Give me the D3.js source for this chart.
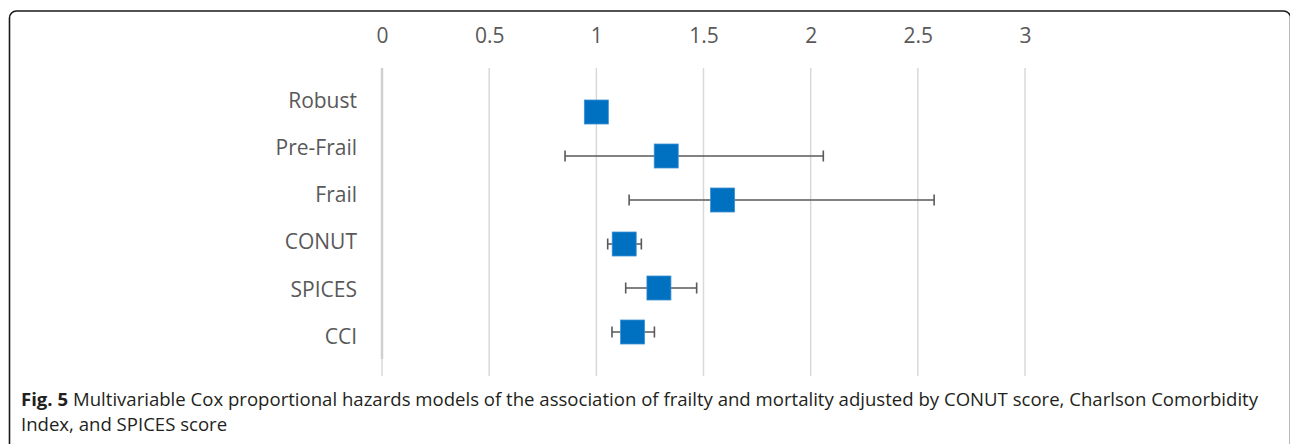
<!DOCTYPE html>
<html>
<head>
<meta charset="utf-8">
<script src="https://cdn.jsdelivr.net/npm/d3@7"></script>
<style>
  html, body { margin: 0; padding: 0; background: #fff; }
  svg { display: block; }
</style>
</head>
<body>
<svg id="chart" width="1290" height="444"></svg>
<script>
// Hazard ratios with 95% confidence intervals
const categories = ["Robust", "Pre-Frail", "Frail", "CONUT", "SPICES", "CCI"];
const hazardRatio = [1.0, 1.326, 1.589, 1.13, 1.292, 1.169];
const ciLower = [null, 0.854, 1.153, 1.053, 1.137, 1.073];
const ciUpper = [null, 2.059, 2.576, 1.21, 1.468, 1.271];
const tickValues = [0, 0.5, 1, 1.5, 2, 2.5, 3];
const tickLabels = ["0", "0.5", "1", "1.5", "2", "2.5", "3"];
const captionBold = "Fig. 5";
const captionLine1 = "Multivariable Cox proportional hazards models of the association of frailty and mortality adjusted by CONUT score, Charlson Comorbidity";
const captionLine2 = "Index, and SPICES score";

const svg = d3.select("#chart");
const font = "'Open Sans', 'Noto Sans', sans-serif";

// Frame around figure
svg.append("rect")
  .attr("x", 9.5).attr("y", 11)
  .attr("width", 1281).attr("height", 600)
  .attr("rx", 7).attr("ry", 7)
  .attr("fill", "#fff")
  .attr("stroke", "#1a1a1a")
  .attr("stroke-width", 1.6);

const x = d3.scaleLinear().domain([0, 3]).range([382, 1025]);
const yLabel = d3.scaleBand().domain(categories).range([77, 360]);
const yMark = d3.scaleBand().domain(categories).range([90, 354]);

const gridTop = 68, gridBottom = 376, axisBottom = 359;

// Vertical gridlines
svg.append("g").selectAll("line")
  .data(tickValues)
  .join("line")
  .attr("x1", d => x(d)).attr("x2", d => x(d))
  .attr("y1", gridTop).attr("y2", gridBottom)
  .attr("stroke", "#d9d9d9")
  .attr("stroke-width", 1.5);

// Category axis line at zero
svg.append("line")
  .attr("x1", x(0)).attr("x2", x(0))
  .attr("y1", gridTop).attr("y2", axisBottom)
  .attr("stroke", "#d0d0d0")
  .attr("stroke-width", 2.5);

// Value axis along the top
const xAxis = d3.axisTop(x)
  .tickValues(tickValues)
  .tickSize(0)
  .tickPadding(0)
  .tickFormat((d, i) => tickLabels[i]);

const gx = svg.append("g")
  .attr("transform", "translate(0,43)")
  .call(xAxis);
gx.select(".domain").remove();
gx.selectAll("text")
  .attr("y", 0)
  .attr("dy", 0)
  .attr("font-family", font)
  .attr("font-size", 21)
  .attr("fill", "#595959");

// Category labels
const yAxis = d3.axisLeft(yLabel).tickSize(0).tickPadding(0);
const gy = svg.append("g")
  .attr("transform", "translate(357,0)")
  .call(yAxis);
gy.select(".domain").remove();
gy.selectAll("text")
  .attr("dy", "0.35em")
  .attr("font-family", font)
  .attr("font-size", 21)
  .attr("fill", "#595959");

// Confidence interval whiskers
const rows = categories.map((c, i) => ({
  cat: c, hr: hazardRatio[i], lo: ciLower[i], hi: ciUpper[i]
}));
const withCI = rows.filter(d => d.lo != null);
const cy = d => yMark(d.cat) + yMark.bandwidth() / 2;
const capH = 5.5;

const eb = svg.append("g")
  .attr("stroke", "#595959")
  .attr("stroke-width", 1.6)
  .attr("fill", "none");
eb.selectAll("line.bar")
  .data(withCI).join("line").attr("class", "bar")
  .attr("x1", d => x(d.lo)).attr("x2", d => x(d.hi))
  .attr("y1", cy).attr("y2", cy);
eb.selectAll("line.capl")
  .data(withCI).join("line").attr("class", "capl")
  .attr("x1", d => x(d.lo)).attr("x2", d => x(d.lo))
  .attr("y1", d => cy(d) - capH).attr("y2", d => cy(d) + capH);
eb.selectAll("line.capr")
  .data(withCI).join("line").attr("class", "capr")
  .attr("x1", d => x(d.hi)).attr("x2", d => x(d.hi))
  .attr("y1", d => cy(d) - capH).attr("y2", d => cy(d) + capH);

// Point estimates
const sq = 24;
svg.append("g").selectAll("rect")
  .data(rows).join("rect")
  .attr("x", d => x(d.hr) - sq / 2)
  .attr("y", d => cy(d) - sq / 2)
  .attr("width", sq).attr("height", sq)
  .attr("fill", "#0070c0")
  .attr("stroke", "#3d8fd6")
  .attr("stroke-width", 0.8);

// Caption, set narrow by scaling its group horizontally
const capSize = 18;
const line1Y = 406, line2Y = 431;
const cap = svg.append("g");
const tBold = cap.append("text")
  .attr("x", 0).attr("y", line1Y)
  .attr("font-family", font)
  .attr("font-size", capSize)
  .attr("font-weight", "bold")
  .attr("fill", "#231f20")
  .text(captionBold);
const gap = capSize * 0.26;
const boldW = tBold.node().getComputedTextLength();
const tRest = cap.append("text")
  .attr("x", boldW + gap).attr("y", line1Y)
  .attr("font-family", font)
  .attr("font-size", capSize)
  .attr("fill", "#231f20")
  .text(captionLine1);

cap.append("text")
  .attr("x", 0).attr("y", line2Y)
  .attr("font-family", font)
  .attr("font-size", capSize)
  .attr("fill", "#231f20")
  .text(captionLine2);

const target1 = 1238;
const ratio = target1 / (boldW + gap + tRest.node().getComputedTextLength());
cap.attr("transform", `translate(21,0) scale(${ratio},1)`);
</script>
</body>
</html>
